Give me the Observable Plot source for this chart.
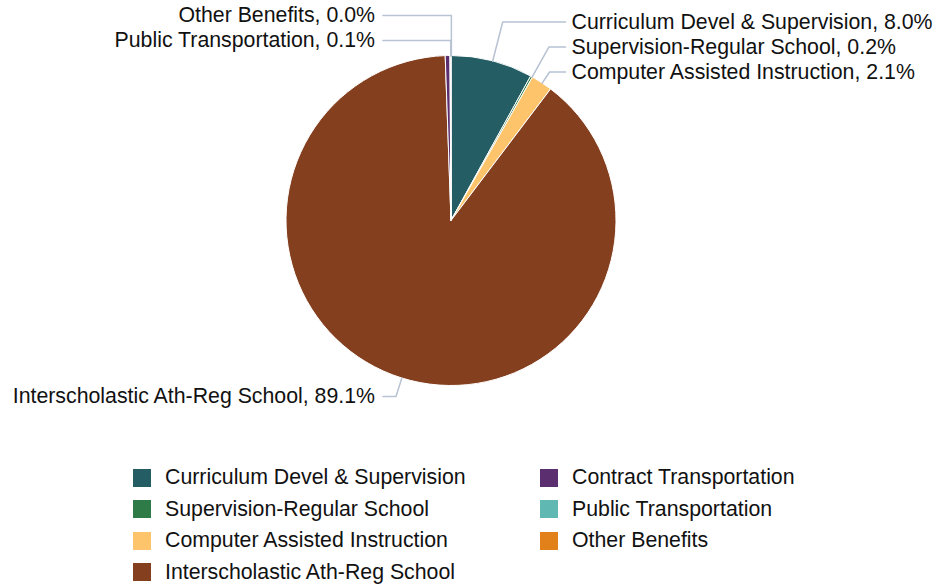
<!DOCTYPE html>
<html>
<head>
<meta charset="utf-8">
<script src="https://cdn.jsdelivr.net/npm/d3@7"></script>
<script src="https://cdn.jsdelivr.net/npm/@observablehq/plot@0.6"></script>
<style>
  html, body { margin: 0; padding: 0; background: #fff; }
  body { font-family: "Liberation Sans", Arial, sans-serif; width: 940px; height: 588px; position: relative; overflow: hidden; }
  #chart { position: absolute; left: 0; top: 0; }
  #legend { position: absolute; left: 0; top: 462px; width: 940px; height: 126px; }
  .item { position: absolute; height: 31.5px; display: flex; align-items: center; font-size: 21.3px; color: #111; white-space: nowrap; }
  .sw { width: 18px; height: 18px; margin-right: 14px; flex: none; }
</style>
</head>
<body>
<div id="chart"></div>
<div id="legend"></div>
<script>
// ---- data ----
const categories = [
  "Curriculum Devel & Supervision",
  "Supervision-Regular School",
  "Computer Assisted Instruction",
  "Interscholastic Ath-Reg School",
  "Contract Transportation",
  "Public Transportation",
  "Other Benefits"
];
const shares = [8.02, 0.2, 2.09, 89.13, 0.46, 0.08, 0.02];
const palette = ["#245e64", "#2f7b48", "#fdc46c", "#843f1f", "#5b2e6f", "#5fb8b2", "#e2811a"];
const unlabeled = ["Contract Transportation"];

// ---- layout ----
const W = 940, H = 440, CX = 451, CY = 220.5, R = 165;
const px = 1 / R; // one pixel in pie units

const data = categories.map((name, i) => ({name, value: shares[i]}));
const total = d3.sum(shares);
const arcs = d3.pie().sort(null).value(d => d.value)(data);
const color = Plot.scale({color: {domain: categories, range: palette}});

// label placement
const labels = arcs.filter(a => !unlabeled.includes(a.data.name)).map(a => {
  const mid = (a.startAngle + a.endAngle) / 2;
  return {
    name: a.data.name,
    text: `${a.data.name}, ${(a.data.value / total * 100).toFixed(1)}%`,
    mid,
    side: Math.sin(mid) >= 0 ? "right" : "left",
    ny: -(1 + 30 * px) * Math.cos(mid)
  };
});

function distribute(items, gap, lo, hi) {
  items.sort((a, b) => a.ny - b.ny);
  const place = c => { c.top = d3.mean(c.items, d => d.ny) - (c.items.length - 1) * gap / 2; };
  const clusters = items.map(it => ({items: [it]}));
  clusters.forEach(place);
  let merged = true;
  while (merged) {
    merged = false;
    for (let i = 0; i < clusters.length - 1; i++) {
      const a = clusters[i], b = clusters[i + 1];
      if (a.top + a.items.length * gap > b.top) {
        a.items = a.items.concat(b.items);
        place(a);
        clusters.splice(i + 1, 1);
        merged = true;
        break;
      }
    }
  }
  clusters.forEach(c => {
    c.top = Math.max(lo, Math.min(c.top, hi - (c.items.length - 1) * gap));
    c.items.forEach((it, k) => { it.y = c.top + k * gap; });
  });
}
const lo = -1 - 40.5 * px, hi = 1 + 10.5 * px;
["left", "right"].forEach(s => distribute(labels.filter(l => l.side === s), 25 * px, lo, hi));

labels.forEach(l => {
  const c = Math.cos(l.mid), s = Math.sin(l.mid);
  let T = Math.abs(c) > 1e-6 ? -l.y / c : 1;
  if (!(T >= 1)) T = 1;
  l.ex = T * s;
  l.sx = s; l.sy = -c;
});
const endRight = d3.max(labels.filter(l => l.side === "right"), l => l.ex) + 16 * px;
const endLeft = d3.min(labels.filter(l => l.side === "left"), l => l.ex) - 13 * px;
labels.forEach(l => { l.endX = l.side === "right" ? endRight : endLeft; });

const connectors = labels.flatMap(l => [
  {name: l.name, x: l.sx, y: l.sy},
  {name: l.name, x: l.ex, y: l.y},
  {name: l.name, x: l.endX, y: l.y}
]);

const pieMark = (index, scales) => {
  const x0 = scales.x(0), y0 = scales.y(0), r = scales.x(1) - x0;
  const arcGen = d3.arc().innerRadius(0).outerRadius(r);
  const g = d3.create("svg:g").attr("transform", `translate(${x0},${y0})`);
  g.selectAll("path").data(arcs).join("path")
    .attr("d", arcGen)
    .attr("fill", d => color.apply(d.data.name))
    .attr("stroke", "#fff")
    .attr("stroke-width", 1)
    .attr("stroke-linejoin", "round");
  return g.node();
};

const chart = Plot.plot({
  width: W, height: H, margin: 0,
  x: {domain: [-1, 1], range: [CX - R, CX + R], axis: null},
  y: {domain: [-1, 1], range: [CY - R, CY + R], axis: null},
  style: {fontFamily: "'Liberation Sans', Arial, sans-serif", background: "#fff", overflow: "visible"},
  marks: [
    pieMark,
    Plot.line(connectors, {x: "x", y: "y", z: "name", stroke: "#b7c2d3", strokeWidth: 1.5}),
    Plot.text(labels.filter(l => l.side === "right"), {x: "endX", y: "y", text: "text", textAnchor: "start", dx: 6, fontSize: 21.3, fill: "#111"}),
    Plot.text(labels.filter(l => l.side === "left"), {x: "endX", y: "y", text: "text", textAnchor: "end", dx: -8, fontSize: 21.3, fill: "#111"})
  ]
});
document.getElementById("chart").appendChild(chart);

// legend (column-major, 4 rows)
const legend = d3.select("#legend");
categories.forEach((name, i) => {
  const col = Math.floor(i / 4), row = i % 4;
  const item = legend.append("div").attr("class", "item")
    .style("left", (133 + col * 407) + "px")
    .style("top", (row * 31.5) + "px");
  item.append("div").attr("class", "sw").style("background", color.apply(name));
  item.append("span").text(name);
});
</script>
</body>
</html>
